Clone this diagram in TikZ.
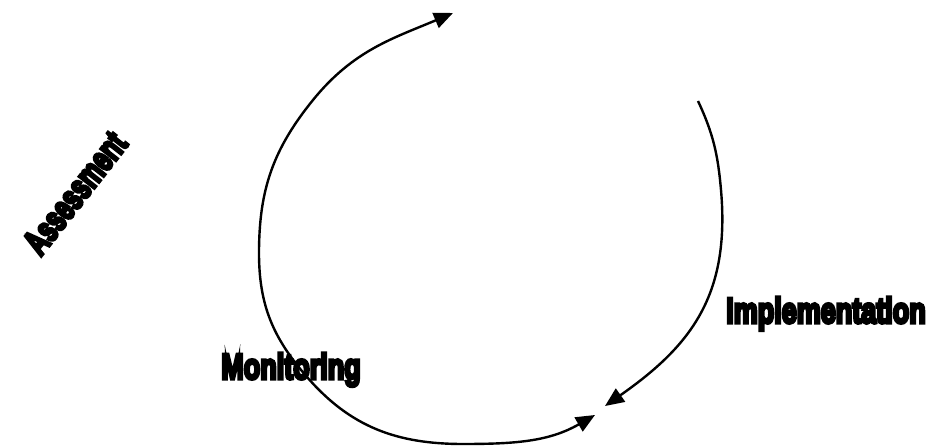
\documentclass[tikz,border=0pt]{standalone}
\usepackage{fontspec}
\usepackage{tikz}
\usetikzlibrary{arrows.meta}
\newfontfamily\heavyfont{Liberation Sans}[UprightFont={* Bold}, FakeBold=9]

\begin{document}
\begin{tikzpicture}[
  x=1pt, y=1pt,
  stage/.style={font=\heavyfont\fontsize{36}{40}\selectfont, xscale=0.75, inner sep=0pt, anchor=base},
  cyclearrow/.style={line width=2.4pt, -{Triangle[length=19pt, width=16pt]}},
  bothways/.style={line width=2.4pt, {Triangle[length=19pt, width=16pt]}-{Triangle[length=19pt, width=16pt]}}
]
\useasboundingbox (0,0) rectangle (937,447);
% stage labels
\node[rotate=52, stage, anchor=center, xscale=0.9] (assess) at (75,254) {Assessment};
\node[stage] (impl) at (826,124) {Implementation};
\node[stage] (monit) at (291,68) {Monitoring};
% left arc, from the bottom round to the top
\coordinate (lowtip) at (595,32);
\coordinate (bottom) at (463,3);
\coordinate (lowleft) at (307,70);
\coordinate (leftmost) at (259,194);
\coordinate (upleft) at (313,347);
\coordinate (toptip) at (453,434);
\draw[bothways] (lowtip) to[out=210, in=0] (bottom)
  to[out=180, in=-49] (lowleft)
  to[out=131, in=270] (leftmost)
  to[out=90, in=231] (upleft)
  to[out=51, in=203] (toptip);
% right arc
\coordinate (rightstart) at (698,346);
\coordinate (rightmost) at (721,257);
\coordinate (righttip) at (605,41);
\draw[cyclearrow] (rightstart) to[out=295, in=95] (rightmost)
  to[out=275, in=35, looseness=1.1] (righttip);
\end{tikzpicture}
\end{document}
